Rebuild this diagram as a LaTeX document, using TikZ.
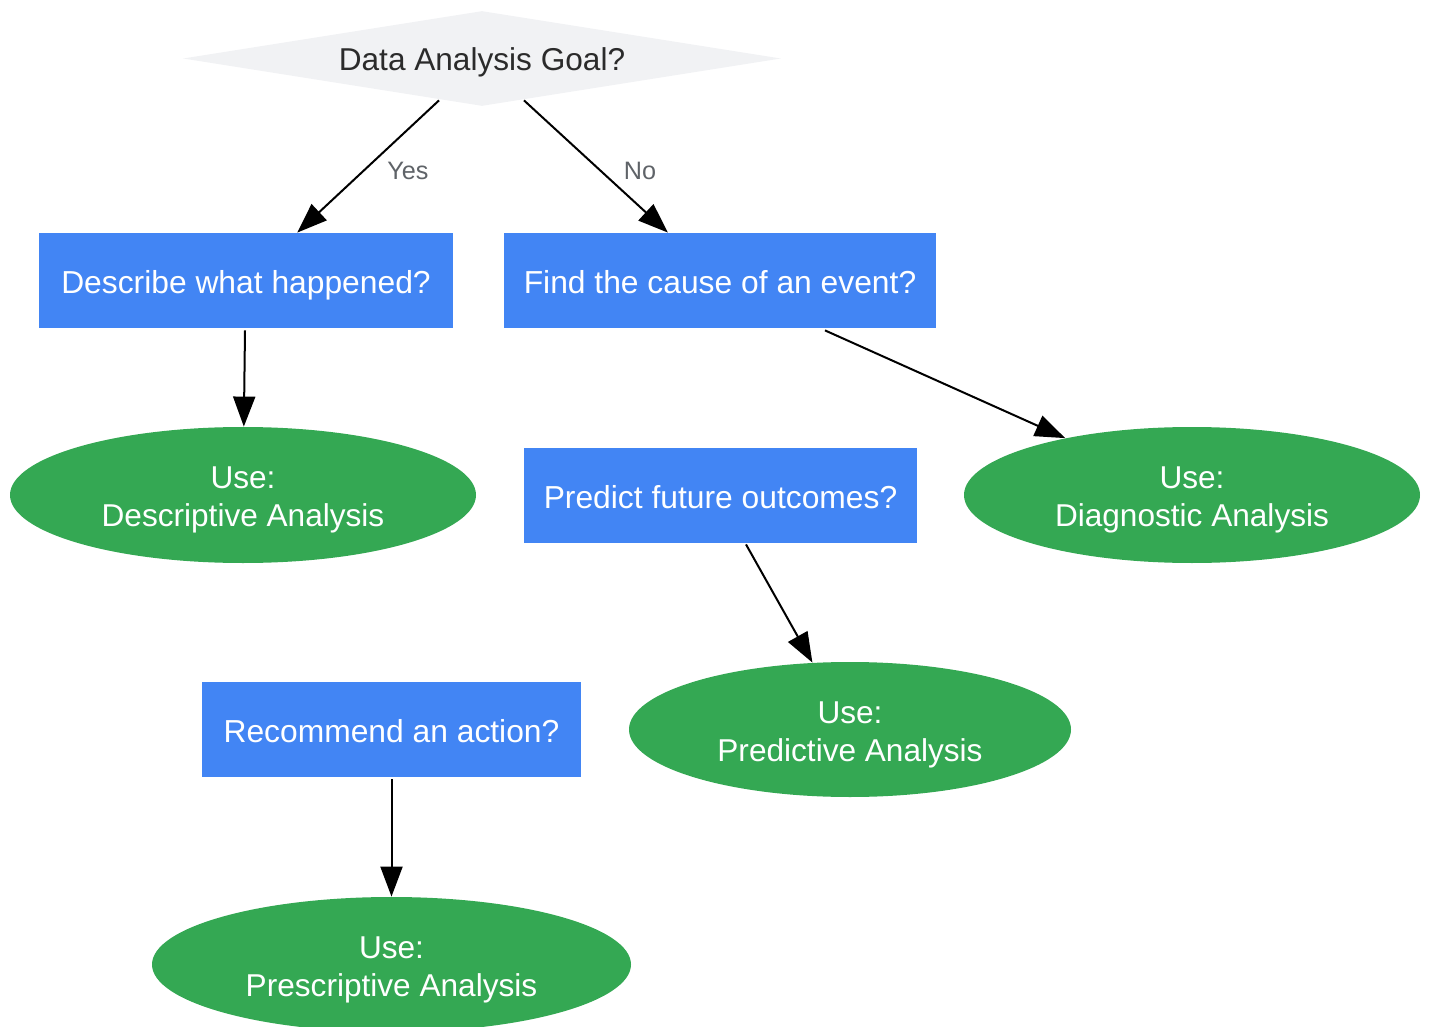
\documentclass[tikz,border=0pt]{standalone}
\usepackage{fontspec}
\setmainfont{Liberation Sans}
\usetikzlibrary{shapes.geometric,arrows.meta,calc}
\definecolor{boxblue}{HTML}{4285F4}
\definecolor{ellgreen}{HTML}{34A853}
\definecolor{diagray}{HTML}{F1F2F4}
\definecolor{diatext}{HTML}{2B2B2B}
\definecolor{lblgray}{HTML}{5F6368}
\tikzset{
  decision/.style={shape=diamond, aspect=6.3, fill=diagray, draw=none, inner sep=0pt,
    minimum width=299pt, minimum height=47.5pt, text=diatext,
    text height=12pt, text depth=0pt,
    font=\fontsize{15.8}{19}\selectfont},
  question/.style={rectangle, fill=boxblue, draw=none, text=white, inner sep=0pt,
    minimum height=47.5pt, text height=12.8pt, text depth=0pt,
    font=\fontsize{15.9}{19}\selectfont},
  restext/.style={text=white, inner sep=0pt, align=center, yshift=-2.5pt,
    font=\fontsize{15.8}{19}\selectfont},
  result/.style={ellipse, fill=ellgreen, draw=none, inner sep=0pt,
    label={[restext]center:{#1}}},
  conn/.style={line width=1pt, -{Triangle[length=15pt,width=11pt]}},
  lbl/.style={text=lblgray, inner sep=0pt, anchor=west, font=\fontsize{12.6}{14}\selectfont}
}
\begin{document}
\begin{tikzpicture}[x=0.5pt,y=-0.5pt]
\useasboundingbox (0,0) rectangle (1430,1027);
\node[decision] (d) at (482,58.5) {Data Analysis Goal?};
\node[question, minimum width=207pt] (b1) at (246,280.5) {Describe what happened?};
\node[question, minimum width=216pt] (b2) at (720,280.5) {Find the cause of an event?};
\node[question, minimum width=196.5pt] (b3) at (720.5,495.5) {Predict future outcomes?};
\node[question, minimum width=189.5pt] (b4) at (391.5,729.5) {Recommend an action?};
\node[result={Use:\\Descriptive Analysis}, minimum width=233pt, minimum height=68pt] (e1) at (243,495) {};
\node[result={Use:\\Diagnostic Analysis}, minimum width=228pt, minimum height=68pt] (e2) at (1192,495) {};
\node[result={Use:\\Predictive Analysis}, minimum width=221pt, minimum height=67.5pt] (e3) at (850,729.5) {};
\node[result={Use:\\Prescriptive Analysis}, minimum width=239.5pt, minimum height=67.5pt] (e4) at (391.5,964.5) {};
\draw[conn] ($(d.south)+(-43,-6)$) -- node[lbl, pos=0.534, xshift=11.5pt] {Yes} (b1);
\draw[conn] ($(d.south)+(42,-6)$) -- node[lbl, pos=0.534, xshift=11pt] {No} (b2);
\draw[conn] ($(b1.south)+(-1,2)$) -- (e1);
\draw[conn] ($(b2.south)+(105,2)$) -- (e2);
\draw[conn] ($(b3.south)+(25.5,1)$) -- (e3);
\draw[conn] ($(b4.south)+(0,2)$) -- (e4);
\end{tikzpicture}
\end{document}
